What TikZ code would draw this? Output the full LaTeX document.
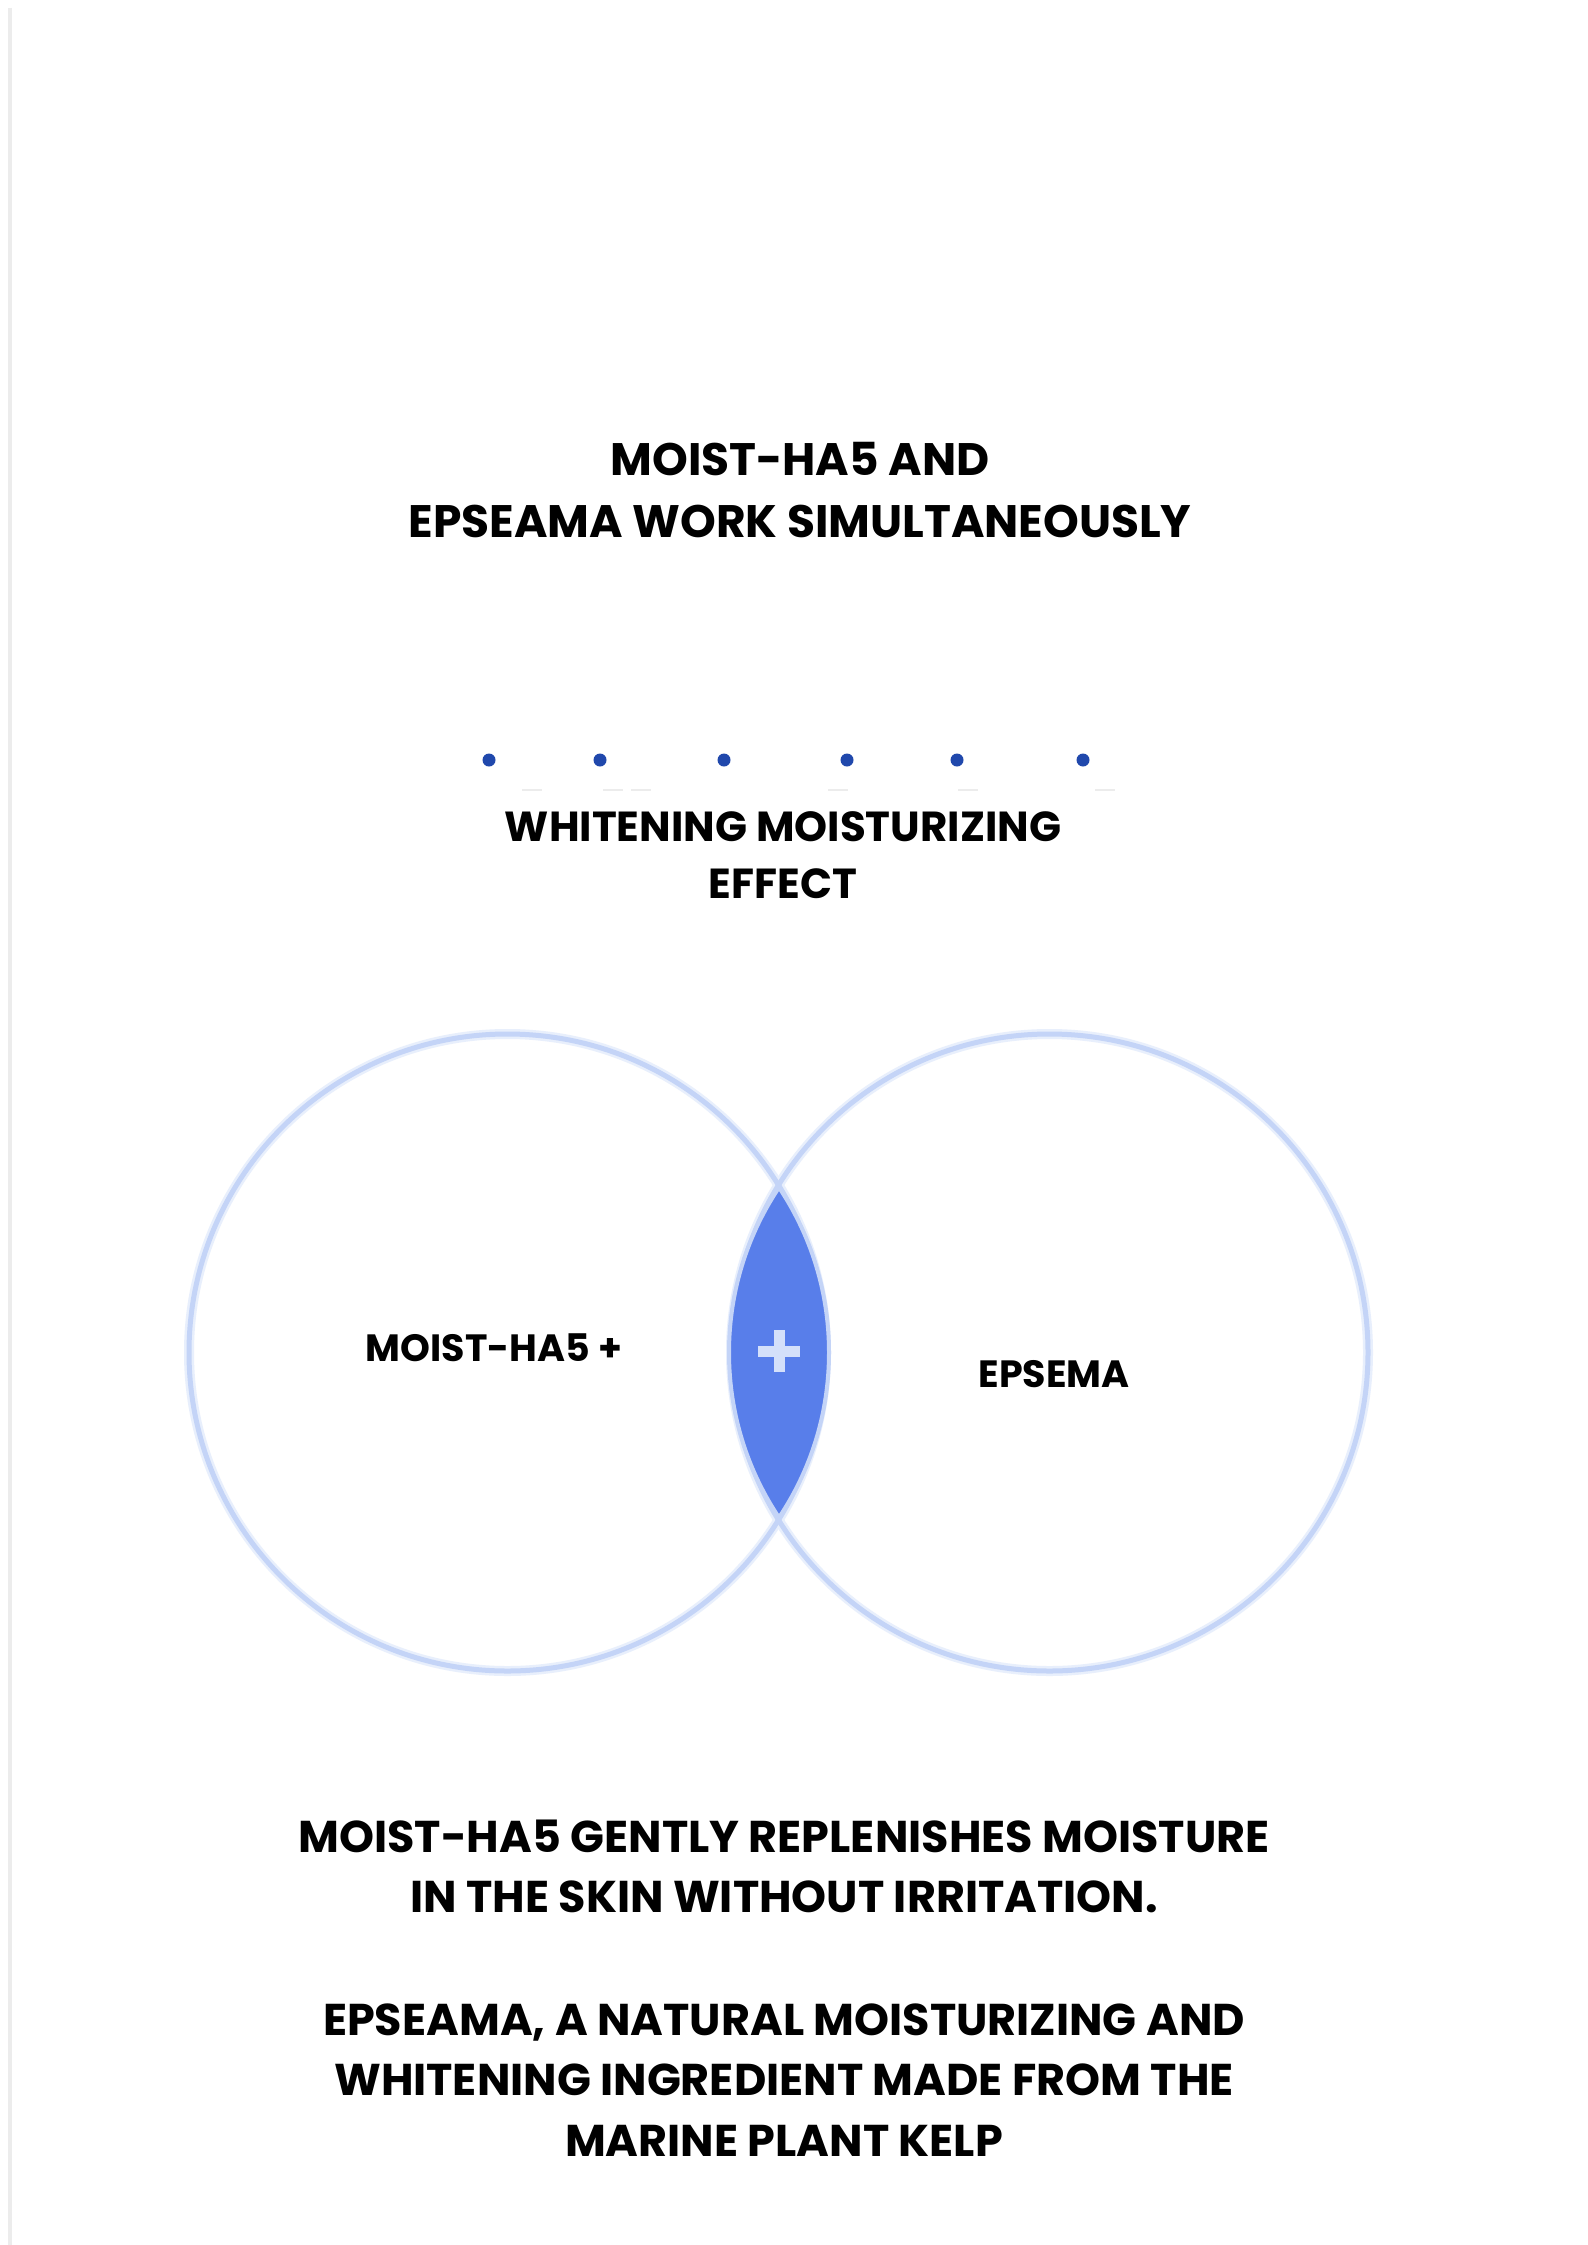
\documentclass[tikz,border=0pt]{standalone}
\usepackage{fontspec}
\setmainfont{Poppins}
\usetikzlibrary{calc}
\definecolor{ringblue}{RGB}{196,212,247}
\definecolor{ringglow}{RGB}{232,239,252}
\definecolor{lensblue}{RGB}{88,126,234}
\definecolor{plusblue}{RGB}{212,224,250}
\definecolor{dotblue}{RGB}{32,72,172}
\definecolor{faintgrey}{RGB}{236,236,236}
\tikzset{
  txt/.style={anchor=base, align=center, inner sep=0pt, text=black, font=\bfseries\fontsize{45.5}{50}\selectfont},
  midtxt/.style={txt, font=\bfseries\fontsize{42}{46}\selectfont},
  lbltxt/.style={txt, font=\bfseries\fontsize{38}{42}\selectfont},
  bottxt/.style={txt, font=\bfseries\fontsize{44.5}{48}\selectfont},
  ring/.style={circle, minimum size=637pt, inner sep=0pt, outer sep=0pt},
  dotmark/.style={circle, fill=dotblue, minimum size=13pt, inner sep=0pt},
}
\begin{document}
\begin{tikzpicture}[x=1pt,y=-1pt]
\useasboundingbox (0,0) rectangle (1587,2245);
\fill[white] (0,0) rectangle (1587,2245);
% faint left edge line
\draw[faintgrey, line width=4pt] (10,8) -- (10,2245);

% title
\node[txt] (t1) at (800,475) {MOIST-HA5 AND};
\node[txt] (t2) at (800,537) {EPSEAMA WORK SIMULTANEOUSLY};

% dots
\foreach \i/\x in {1/489,2/600,3/724,4/847,5/957,6/1083}{
  \node[dotmark] (d\i) at (\x,760) {};
}
\foreach \x in {532,613,641,838,968,1105}{
  \draw[faintgrey, line width=2pt] (\x-10,790) -- (\x+10,790);
}

% effect
\node[midtxt] (e1) at (783,841) {WHITENING MOISTURIZING};
\node[midtxt] (e2) at (783,898) {EFFECT};

% circles
\coordinate (cl) at (507.5,1352.5);
\coordinate (cr) at (1049.5,1352.5);
\node[ring, draw=ringglow, line width=10pt] (gl) at (cl) {};
\node[ring, draw=ringglow, line width=10pt] (gr) at (cr) {};
\node[ring, draw=ringblue, line width=5pt] (L) at (cl) {};
\node[ring, draw=ringblue, line width=5pt] (R) at (cr) {};

% lens
\coordinate (la) at (531.75,1352.5);
\coordinate (lb) at (1026.25,1352.5);
\begin{scope}
  \clip (la) circle[radius=297.25pt];
  \fill[lensblue] (lb) circle[radius=297.25pt];
  \draw[ringblue, line width=4pt] (lb) circle[radius=297.25pt];
\end{scope}
\begin{scope}
  \clip (lb) circle[radius=297.25pt];
  \draw[ringblue, line width=4pt] (la) circle[radius=297.25pt];
\end{scope}

% plus sign
\coordinate (pc) at (779,1351);
\fill[plusblue] ($(pc)+(-21,-5.5)$) rectangle ($(pc)+(21,5.5)$);
\fill[plusblue] ($(pc)+(-5.5,-21)$) rectangle ($(pc)+(5.5,21)$);

% labels
\node[lbltxt] (lm) at (494,1361) {MOIST-HA5 +};
\node[lbltxt] (le) at (1054,1387) {EPSEMA};

% bottom text
\node[bottxt] (b1) at (784,1852) {MOIST-HA5 GENTLY REPLENISHES MOISTURE};
\node[bottxt] (b2) at (784,1912) {IN THE SKIN WITHOUT IRRITATION.};
\node[bottxt] (b3) at (784,2035) {EPSEAMA, A NATURAL MOISTURIZING AND};
\node[bottxt] (b4) at (784,2095) {WHITENING INGREDIENT MADE FROM THE};
\node[bottxt] (b5) at (784,2156) {MARINE PLANT KELP};
\end{tikzpicture}
\end{document}
